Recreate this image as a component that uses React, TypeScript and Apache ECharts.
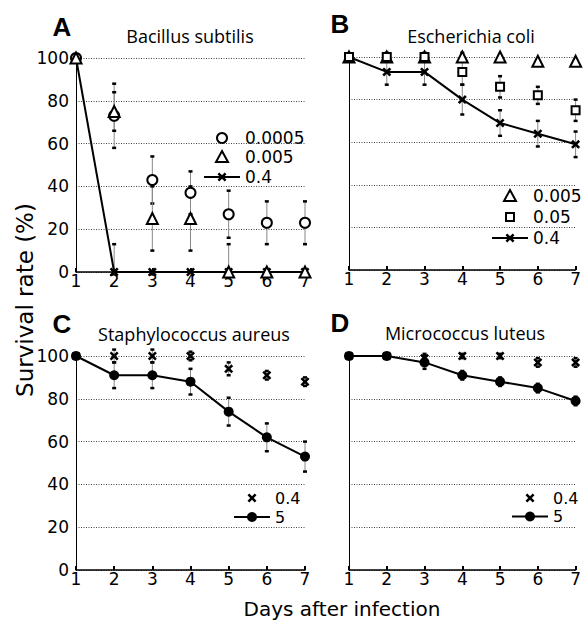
import React, { useEffect, useRef } from "react";
import * as echarts from "echarts";

// ---- data ----
const days = [1, 2, 3, 4, 5, 6, 7];
const yTicks = [0, 20, 40, 60, 80, 100];

// A: Bacillus subtilis
const bsub_0_0005 = [100, 73, 43, 37, 27, 23, 23];
const bsub_0_0005_err = [0, 15, 11, 10, 11, 10, 10];
const bsub_0_005 = [100, 75, 25, 25, 0, 0, 0];
const bsub_0_005_err = [0, 9, 15, 15, 13, 0, 0];
const bsub_0_4 = [100, 0, 0, 0, 0, 0, 0];
const bsub_0_4_err = [0, 13, 0, 0, 0, 0, 0];

// B: Escherichia coli
const eco_0_005 = [100, 100, 100, 100, 100, 98, 98];
const eco_0_005_err = [0, 2, 2, 2, 1, 1, 1];
const eco_0_05 = [100, 100, 100, 93, 86, 82, 75];
const eco_0_05_err = [0, 1, 1, 6, 5, 4, 5];
const eco_0_4 = [100, 93, 93, 80, 69, 64, 59];
const eco_0_4_err = [0, 6, 6, 7, 6, 6, 6];

// C: Staphylococcus aureus
const sau_0_4 = [100, 100, 100, 100, 94, 91, 88];
const sau_0_4_err = [0, 3, 3, 2, 3, 2, 2];
const sau_5 = [100, 91, 91, 88, 74, 62, 53];
const sau_5_err = [0, 6, 6, 6, 6.5, 6.5, 7];

// D: Micrococcus luteus
const mlu_0_4 = [100, 100, 99, 100, 100, 97, 97];
const mlu_0_4_err = [0, 1, 2, 1, 1, 2, 2];
const mlu_5 = [100, 100, 97, 91, 88, 85, 79];
const mlu_5_err = [0, 1, 3, 2, 2, 2, 2];

const titles = ["Bacillus subtilis", "Escherichia coli", "Staphylococcus aureus", "Micrococcus luteus"];
const letters = ["A", "B", "C", "D"];

// legend entries per panel: [label, marker kind]
const legendA: [string, string][] = [["0.0005", "circle"], ["0.005", "triangle"], ["0.4", "xline"]];
const legendB: [string, string][] = [["0.005", "triangle"], ["0.05", "rect"], ["0.4", "xline"]];
const legendC: [string, string][] = [["0.4", "x"], ["5", "dotline"]];
const legendD: [string, string][] = [["0.4", "x"], ["5", "dotline"]];

// ---- styling ----
const NUM_FONT = "DejaVu Sans";
const X_SYMBOL = "path://M2,0 L5,3 L8,0 L10,2 L7,5 L10,8 L8,10 L5,7 L2,10 L0,8 L3,5 L0,2 Z";
const X_POINTS = [[2, 0], [5, 3], [8, 0], [10, 2], [7, 5], [10, 8], [8, 10], [5, 7], [2, 10], [0, 8], [3, 5], [0, 2]];

const grids = [
  { left: 76, top: 58, width: 229, height: 214 },
  { left: 349, top: 57, width: 230, height: 213 },
  { left: 76, top: 356, width: 229, height: 214 },
  { left: 349, top: 356, width: 230, height: 214 },
];

const pts = (vals: number[]) => days.map((d, i) => [d, vals[i]]);

function scatter(name: string, idx: number, vals: number[], symbol: string, size: number, open: boolean) {
  return {
    type: "scatter",
    name,
    xAxisIndex: idx,
    yAxisIndex: idx,
    data: pts(vals),
    symbol,
    symbolSize: size,
    itemStyle: open
      ? { color: "#fff", borderColor: "#000", borderWidth: 2, opacity: 1 }
      : { color: "#000", borderWidth: 0, opacity: 1 },
    emphasis: { disabled: true },
    z: 4,
    clip: false,
  };
}

function line(name: string, idx: number, vals: number[], symbol: string, size: number) {
  return {
    type: "line",
    name,
    xAxisIndex: idx,
    yAxisIndex: idx,
    data: pts(vals),
    symbol,
    symbolSize: size,
    showSymbol: true,
    lineStyle: { color: "#000", width: 2 },
    itemStyle: { color: "#000", opacity: 1 },
    emphasis: { disabled: true },
    z: 3,
    clip: false,
  };
}

function errBars(idx: number, vals: number[], errs: number[]) {
  const data = days
    .map((d, i) => [d, Math.max(0, vals[i] - errs[i]), vals[i] + errs[i]])
    .filter((_, i) => errs[i] > 0);
  return {
    type: "custom",
    xAxisIndex: idx,
    yAxisIndex: idx,
    data,
    z: 1,
    clip: false,
    encode: { x: 0, y: [1, 2] },
    renderItem: (params: any, api: any) => {
      const x = api.value(0);
      const lo = api.coord([x, api.value(1)]);
      const hi = api.coord([x, api.value(2)]);
      return {
        type: "group",
        children: [
          { type: "line", shape: { x1: lo[0], y1: lo[1], x2: hi[0], y2: hi[1] }, style: { stroke: "#888", lineWidth: 1 } },
          { type: "line", shape: { x1: lo[0] - 2, y1: lo[1], x2: lo[0] + 2, y2: lo[1] }, style: { stroke: "#000", lineWidth: 2.5 } },
          { type: "line", shape: { x1: hi[0] - 2, y1: hi[1], x2: hi[0] + 2, y2: hi[1] }, style: { stroke: "#000", lineWidth: 2.5 } },
        ],
      };
    },
  };
}

// ---- legend drawn as graphic elements ----
function xPolygon(cx: number, cy: number, s: number) {
  return {
    type: "polygon",
    shape: { points: X_POINTS.map(([px, py]) => [cx + (px - 5) * s, cy + (py - 5) * s]) },
    style: { fill: "#000" },
  };
}

function legendMarker(kind: string, cx: number, cy: number): any[] {
  const open = { fill: "#fff", stroke: "#000", lineWidth: 2 };
  const ln = { type: "line", shape: { x1: cx - 18, y1: cy, x2: cx + 18, y2: cy }, style: { stroke: "#000", lineWidth: 2 } };
  switch (kind) {
    case "circle":
      return [{ type: "circle", shape: { cx, cy, r: 5 }, style: open }];
    case "triangle":
      return [{ type: "polygon", shape: { points: [[cx, cy - 6], [cx + 6, cy + 5], [cx - 6, cy + 5]] }, style: open }];
    case "rect":
      return [{ type: "rect", shape: { x: cx - 4, y: cy - 4, width: 8, height: 8 }, style: open }];
    case "x":
      return [xPolygon(cx, cy, 0.9)];
    case "xline":
      return [ln, xPolygon(cx, cy, 0.9)];
    case "dotline":
      return [ln, { type: "circle", shape: { cx, cy, r: 5 }, style: { fill: "#000" } }];
  }
  return [];
}

function legendGraphic(entries: [string, string][], cx: number, rows: number[], fontSize: number): any[] {
  const out: any[] = [];
  entries.forEach(([label, kind], i) => {
    out.push(...legendMarker(kind, cx, rows[i]));
    out.push({
      type: "text",
      x: cx + 23,
      y: rows[i],
      style: { text: label, fontSize, fontFamily: NUM_FONT, fill: "#000", textAlign: "left", textVerticalAlign: "middle" },
    });
  });
  return out;
}

export default function App() {
  const ref = useRef<HTMLDivElement>(null);
  useEffect(() => {
    if (!ref.current) return;
    const chart = echarts.init(ref.current, undefined, { renderer: "svg" });

    const xAxes = grids.map((_, i) => ({
      type: "value",
      gridIndex: i,
      min: 1,
      max: 7,
      interval: 1,
      axisLine: { show: true, lineStyle: { color: "#000", width: 1.5 } },
      axisTick: { show: true, inside: true, length: 4, lineStyle: { color: "#000", width: 2 } },
      axisLabel: { fontSize: 17, fontFamily: NUM_FONT, color: "#000", margin: 0 },
      splitLine: { show: false },
    }));
    const yAxes = grids.map((_, i) => ({
      type: "value",
      gridIndex: i,
      min: yTicks[0],
      max: yTicks[yTicks.length - 1],
      interval: 20,
      axisLine: { show: true, lineStyle: { color: "#000", width: 1 } },
      axisTick: { show: false },
      axisLabel: { show: i % 2 === 0, fontSize: 17, fontFamily: NUM_FONT, color: "#000", margin: 7 },
      splitLine: { show: true, lineStyle: { color: "#444", width: 1, type: [1, 1.5] } },
    }));

    const series: any[] = [
      errBars(0, bsub_0_0005, bsub_0_0005_err),
      errBars(0, bsub_0_005, bsub_0_005_err),
      errBars(0, bsub_0_4, bsub_0_4_err),
      scatter("0.0005", 0, bsub_0_0005, "circle", 10, true),
      scatter("0.005", 0, bsub_0_005, "triangle", 11, true),
      line("0.4", 0, bsub_0_4, X_SYMBOL, 9),

      errBars(1, eco_0_005, eco_0_005_err),
      errBars(1, eco_0_05, eco_0_05_err),
      errBars(1, eco_0_4, eco_0_4_err),
      scatter("0.005", 1, eco_0_005, "triangle", 11, true),
      scatter("0.05", 1, eco_0_05, "rect", 8, true),
      line("0.4", 1, eco_0_4, X_SYMBOL, 9),

      errBars(2, sau_0_4, sau_0_4_err),
      errBars(2, sau_5, sau_5_err),
      scatter("0.4", 2, sau_0_4, X_SYMBOL, 9, false),
      line("5", 2, sau_5, "circle", 10),

      errBars(3, mlu_0_4, mlu_0_4_err),
      errBars(3, mlu_5, mlu_5_err),
      scatter("0.4", 3, mlu_0_4, X_SYMBOL, 9, false),
      line("5", 3, mlu_5, "circle", 10),
    ];

    const titlePos = [
      [190, 36],
      [471, 36],
      [194, 334],
      [465, 333],
    ];
    const letterPos = [
      [62, 27],
      [340, 24],
      [62, 324],
      [340, 323],
    ];

    const graphic: any[] = [];
    titles.forEach((t, i) => {
      graphic.push({
        type: "text",
        x: titlePos[i][0],
        y: titlePos[i][1],
        style: { text: t, fontSize: 18, fontFamily: "Open Sans", fill: "#000", textAlign: "center", textVerticalAlign: "middle" },
      });
      graphic.push({
        type: "text",
        x: letterPos[i][0],
        y: letterPos[i][1],
        style: { text: letters[i], fontSize: 26, fontWeight: "bold", fontFamily: "Liberation Sans", fill: "#000", textAlign: "center", textVerticalAlign: "middle" },
      });
    });
    graphic.push({
      type: "text",
      x: 25,
      y: 300,
      rotation: Math.PI / 2,
      style: { text: "Survival rate (%)", fontSize: 23, fontFamily: NUM_FONT, fill: "#000", textAlign: "center", textVerticalAlign: "middle" },
    });
    graphic.push({
      type: "text",
      x: 342,
      y: 609,
      style: { text: "Days after infection", fontSize: 20, fontFamily: NUM_FONT, fill: "#000", textAlign: "center", textVerticalAlign: "middle" },
    });
    graphic.push(...legendGraphic(legendA, 222, [138, 157, 177], 17));
    graphic.push(...legendGraphic(legendB, 510, [196, 217, 238], 17));
    graphic.push(...legendGraphic(legendC, 252, [498, 517], 16));
    graphic.push(...legendGraphic(legendD, 530, [498, 516.5], 16));

    chart.setOption({
      animation: false,
      backgroundColor: "#fff",
      grid: grids,
      xAxis: xAxes,
      yAxis: yAxes,
      graphic: { elements: graphic },
      series,
    });
    return () => chart.dispose();
  }, []);
  return <div ref={ref} style={{ position: "fixed", left: 0, top: 0, width: 584, height: 621 }} />;
}
